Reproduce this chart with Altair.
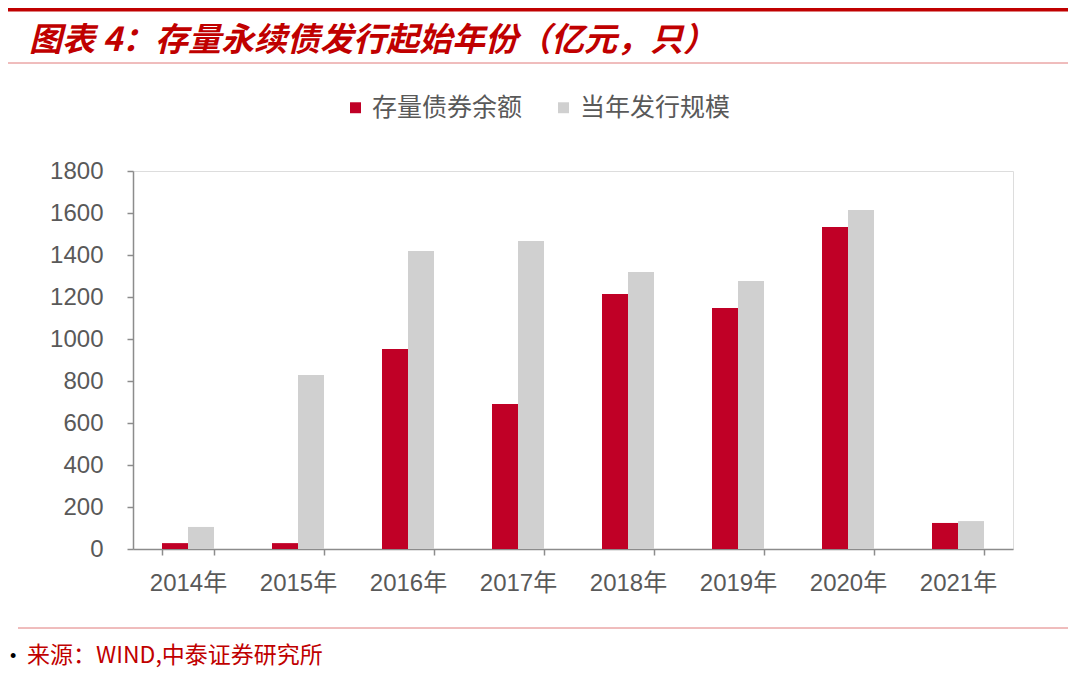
import altair as alt
import pandas as pd

years = ["2014年", "2015年", "2016年", "2017年", "2018年", "2019年", "2020年", "2021年"]
stock_balance = [28, 28, 952, 690, 1214, 1148, 1533, 124]
issue_scale = [105, 829, 1419, 1467, 1319, 1276, 1614, 133]
series_names = ["存量债券余额", "当年发行规模"]
series_colors = ["#C00026", "#D0D0D0"]
y_ticks = [0, 200, 400, 600, 800, 1000, 1200, 1400, 1600, 1800]

title_text = "图表 4：存量永续债发行起始年份（亿元，只）"
source_text = "来源：WIND,中泰证券研究所"

rows = []
for i, y in enumerate(years):
    rows.append({"year": y, "series": series_names[0], "value": stock_balance[i]})
    rows.append({"year": y, "series": series_names[1], "value": issue_scale[i]})
df = pd.DataFrame(rows)

W, H = 880, 378
CJK = "Noto Sans CJK SC"
LAT = "Liberation Sans, Noto Sans CJK SC"

bars = alt.Chart(df).mark_bar().encode(
    x=alt.X("year:N", sort=years, title=None,
            scale=alt.Scale(paddingInner=0.5273, paddingOuter=0.2636),
            axis=alt.Axis(labelAngle=0, labelFont=LAT, labelFontSize=24, labelColor="#595959",
                          domainColor="#8c8c8c", tickColor="#8c8c8c", tickSize=6,
                          tickBand="extent", labelPadding=16, domainWidth=1.5, tickWidth=1.5, grid=False)),
    xOffset=alt.XOffset("series:N", sort=series_names,
                        scale=alt.Scale(paddingInner=0, paddingOuter=0)),
    y=alt.Y("value:Q", title=None,
            scale=alt.Scale(domain=[0, 1800], nice=False),
            axis=alt.Axis(values=y_ticks, format="d", labelFont=LAT, labelFontSize=24,
                          labelColor="#595959",
                          domainColor="#8c8c8c", tickColor="#8c8c8c", tickSize=6,
                          labelPadding=24, domainWidth=1.5, tickWidth=1.5, grid=False)),
    color=alt.Color("series:N", sort=series_names,
                    scale=alt.Scale(domain=series_names, range=series_colors),
                    legend=alt.Legend(title=None, orient="none", legendX=210, legendY=-76,
                                      direction="horizontal", symbolType="square", symbolSize=120,
                                      symbolStrokeWidth=0, labelFont=CJK, labelFontSize=25,
                                      labelColor="#595959", columnPadding=28, labelOffset=4)),
)

one = pd.DataFrame({"k": [0]})

top_line = alt.Chart(one).mark_rule(color="#C00000", strokeWidth=5).encode(
    x=alt.value(-125), x2=alt.value(935), y=alt.value(-162))
thin_line = alt.Chart(one).mark_rule(color="#E07A7A", strokeWidth=1).encode(
    x=alt.value(-125), x2=alt.value(935), y=alt.value(-108))
foot_line = alt.Chart(one).mark_rule(color="#E07A7A", strokeWidth=1).encode(
    x=alt.value(-115), x2=alt.value(935), y=alt.value(457))

title = alt.Chart(pd.DataFrame({"t": [title_text]})).mark_text(
    align="left", baseline="middle", font=CJK, fontSize=33, fontWeight="bold",
    fontStyle="italic", color="#C00000").encode(
    x=alt.value(-104), y=alt.value(-130), text="t:N")

source = alt.Chart(pd.DataFrame({"t": [source_text]})).mark_text(
    align="left", baseline="middle", font=CJK, fontSize=23, color="#C00000").encode(
    x=alt.value(-106), y=alt.value(485), text="t:N")

bullet = alt.Chart(pd.DataFrame({"t": ["•"]})).mark_text(
    align="left", baseline="middle", font=LAT, fontSize=18, color="#000000").encode(
    x=alt.value(-123), y=alt.value(486), text="t:N")

chart = alt.layer(bars, top_line, thin_line, foot_line, title, source, bullet).properties(
    width=W, height=H,
    autosize=alt.AutoSizeParams(type="none"),
    padding={"left": 125, "top": 163, "right": 55, "bottom": 120},
).configure_view(stroke=None).configure(background="white")

chart.save("out.html", embed_options={"renderer": "svg", "actions": False})
